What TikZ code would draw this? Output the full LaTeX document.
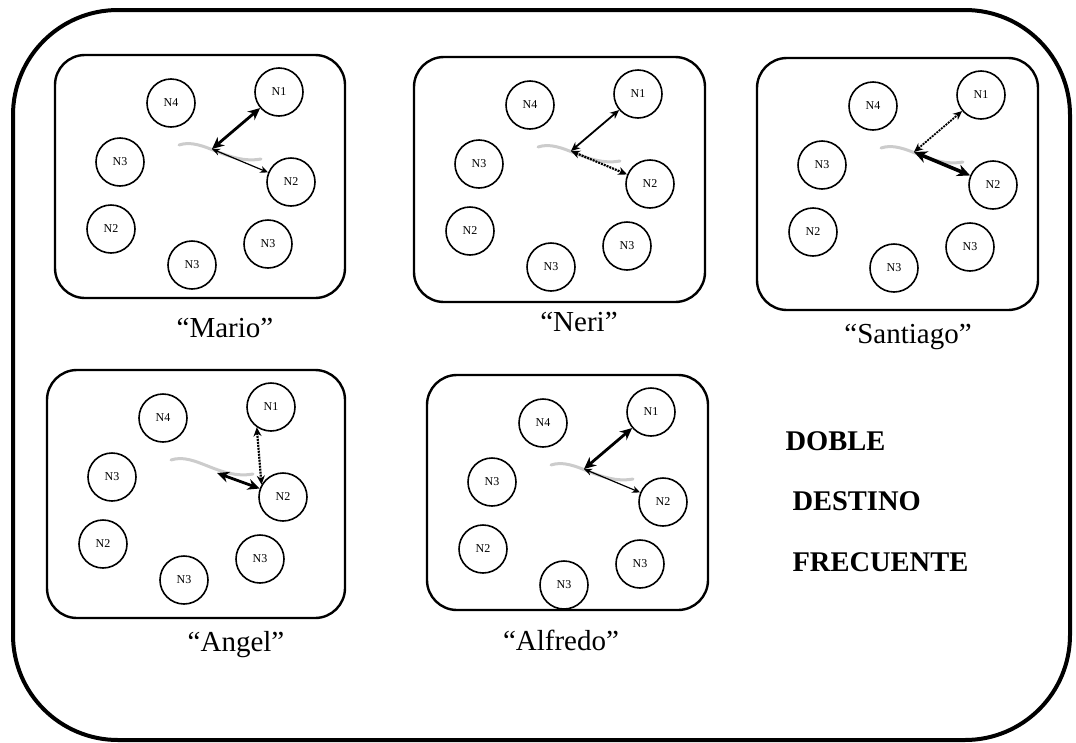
\documentclass[tikz,border=0pt]{standalone}
\usepackage{fontspec}
\setmainfont{Liberation Serif}
\usetikzlibrary{arrows.meta}
\tikzset{station/.style={circle,draw,line width=1.6pt,minimum size=48pt,inner sep=0pt,font=\fontsize{12}{12}\selectfont},
	panel/.style={-,line width=2.4pt,rounded corners=30pt},
	wave/.style={-,gray!40,line width=3pt,line cap=round},
}
% one rounded box with its seven stations: prefix, corner, width, height
\newcommand{\clockpanel}[4]{%
	\begin{scope}[shift={#2}]
		\draw[panel] (0,0) rectangle (#3,#4);
		\node[station] (#1-n1) at (224,37) {N1};
		\node[station] (#1-n4) at (116,48) {N4};
		\node[station] (#1-n3l) at (65,107) {N3};
		\node[station] (#1-n2r) at (236,127) {N2};
		\node[station] (#1-n2l) at (56,174) {N2};
		\node[station] (#1-n3b) at (137,210) {N3};
		\node[station] (#1-n3r) at (213,189) {N3};
		\coordinate (#1-c) at (157,94);
		\draw[wave] (124,90) .. controls (148,82) and (172,110) .. (206,104);
	\end{scope}}

\begin{document}
\begin{tikzpicture}[x=1pt,y=-1pt,<->,>={Stealth[length=8pt,width=7pt]},
		bold/.style={line width=2.8pt,>={Stealth[length=12pt,width=11pt]}},
		heavy/.style={line width=3.6pt,>={Stealth[length=13pt,width=12pt]}},
		medium/.style={line width=1.8pt,>={Stealth[length=9pt,width=8pt]}},
		thin/.style={line width=1.2pt},
		dotline/.style={line width=2.2pt,dash pattern=on 2pt off 1pt,>={Stealth[length=9pt,width=8pt]}},
		caption/.style={font=\fontsize{29}{29}\selectfont},
		legend/.style={anchor=west,font=\bfseries\fontsize{28.5}{28.5}\selectfont}]
	
	\useasboundingbox (0,0) rectangle (1076,742);
	\draw[-,line width=4pt,rounded corners=105pt] (13,10) rectangle (1070,740);
	
	\clockpanel{m}{(55,55)}{290}{243}
	\clockpanel{ne}{(414,57)}{291}{245}
	\clockpanel{s}{(757,58)}{281}{252}
	\clockpanel{an}{(47,370)}{298}{248}
	\clockpanel{al}{(427,375)}{281}{235}
	\coordinate (an-tail) at (217,473);
	
	\node[caption] (mario) at (225,328) {``Mario''};
	\node[caption] (neri) at (579,322) {``Neri''};
	\node[caption] (santiago) at (908,337) {``Santiago''};
	\node[caption] (angel) at (236,645) {``Angel''};
	\node[caption] (alfredo) at (561,640) {``Alfredo''};
	
	\node[legend] (doble) at (782,441) {DOBLE};
	\node[legend] (destino) at (789,501) {DESTINO};
	\node[legend] (frecuente) at (789,562) {FRECUENTE};
	
	\draw[bold] (m-c) -- (m-n1);
	\draw[thin] (m-c) -- (m-n2r);
	\draw[medium] (ne-c) -- (ne-n1);
	\draw[dotline] (ne-c) -- (ne-n2r);
	\draw[dotline,line width=1.8pt] (s-c) -- (s-n1);
	\draw[heavy] (s-c) -- (s-n2r);
	\draw[bold] (an-tail) -- (an-n2r.160);
	\draw[dotline] (an-n1.235) -- (an-n2r.150);
	\draw[bold] (al-c) -- (al-n1);
	\draw[thin] (al-c) -- (al-n2r);
\end{tikzpicture}
\end{document}
